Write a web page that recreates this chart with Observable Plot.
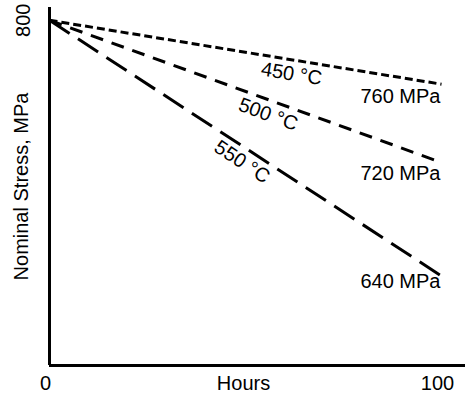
<!DOCTYPE html>
<html>
<head>
<meta charset="utf-8">
<script src="https://cdn.jsdelivr.net/npm/d3@7"></script>
<script src="https://cdn.jsdelivr.net/npm/@observablehq/plot@0.6"></script>
<style>
  html, body { margin: 0; padding: 0; background: #fff; }
  #chart { width: 465px; height: 395px; }
</style>
</head>
<body>
<div id="chart"></div>
<script>
// ---- data ----
const hours = [0, 100];
const series = ["450 °C", "500 °C", "550 °C"];
const startStress = [800, 800, 800];
const endStress = [760, 711, 640];          // as drawn (schematic)
const endLabels = ["760 MPa", "720 MPa", "640 MPa"];
const xTicks = [0, 100];
const yTicks = [800];
const xTitle = "Hours";
const yTitle = "Nominal Stress, MPa";

// ---- layout ----
const W = 465, H = 395;
const mL = 49, mR = 0, mT = 7, mB = 30;
const xDomain = [0, 106.12];
const yDomain = [584, 808];
const dashes = ["8,4", "13,9", "24,10"];
const labelHours = [62.3, 57, 51];
const labelPerp = [14, 14, 13.5];
const endDy = [12, 11, 6];
const font = "'Liberation Sans', Arial, Helvetica, sans-serif";

const xs = Plot.scale({x: {domain: xDomain, range: [mL, W - mR]}});
const ys = Plot.scale({y: {domain: yDomain, range: [H - mB, mT]}});

const lines = series.map((s, i) => hours.map((h, j) => ({
  series: s, hour: h, stress: j === 0 ? startStress[i] : endStress[i]
})));

const marks = [];
// axes lines
marks.push(Plot.ruleX([xDomain[0]], {stroke: "#000", strokeWidth: 3}));
marks.push(Plot.ruleY([yDomain[0]], {stroke: "#000", strokeWidth: 3}));

// dashed lines
lines.forEach((data, i) => {
  marks.push(Plot.line(data, {
    x: "hour", y: "stress", stroke: "#000", strokeWidth: 3,
    strokeDasharray: dashes[i], strokeLinecap: "butt"
  }));
});

// rotated in-line labels
series.forEach((s, i) => {
  const x0 = xs.apply(hours[0]), x1 = xs.apply(hours[1]);
  const y0 = ys.apply(startStress[i]), y1 = ys.apply(endStress[i]);
  const a = Math.atan2(y1 - y0, x1 - x0);
  const h = labelHours[i];
  const st = startStress[i] + (endStress[i] - startStress[i]) * (h - hours[0]) / (hours[1] - hours[0]);
  marks.push(Plot.text([s], {
    x: () => h, y: () => st, text: d => d,
    rotate: a * 180 / Math.PI,
    dx: -labelPerp[i] * Math.sin(a), dy: labelPerp[i] * Math.cos(a),
    textAnchor: "middle", lineAnchor: "middle", fontSize: 20, fill: "#000"
  }));
});

// end labels
endLabels.forEach((t, i) => {
  marks.push(Plot.text([t], {
    x: () => hours[1], y: () => endStress[i], text: d => d,
    textAnchor: "end", lineAnchor: "middle", dx: -1, dy: endDy[i],
    fontSize: 20, fill: "#000"
  }));
});

// tick labels
marks.push(Plot.text(xTicks, {
  x: d => d, y: () => yDomain[0], text: d => String(d),
  dx: -4, dy: 18, textAnchor: "middle", lineAnchor: "middle", fontSize: 20, fill: "#000"
}));
marks.push(Plot.text(yTicks, {
  x: () => xDomain[0], y: d => d, text: d => String(d),
  dx: -26, rotate: -90, textAnchor: "middle", lineAnchor: "middle", fontSize: 20, fill: "#000"
}));

// axis titles
marks.push(Plot.text([xTitle], {
  frameAnchor: "bottom", text: d => d, dx: -14, dy: 18,
  textAnchor: "middle", lineAnchor: "middle", fontSize: 20, fill: "#000"
}));
marks.push(Plot.text([yTitle], {
  frameAnchor: "left", text: d => d, dx: -28, dy: 0, rotate: -90,
  textAnchor: "middle", lineAnchor: "middle", fontSize: 20, fill: "#000"
}));

const chart = Plot.plot({
  width: W, height: H,
  marginLeft: mL, marginRight: mR, marginTop: mT, marginBottom: mB,
  x: {domain: xDomain, axis: null},
  y: {domain: yDomain, axis: null},
  style: {fontFamily: font, fontSize: "20px", background: "#fff", color: "#000", overflow: "visible"},
  marks
});
document.getElementById("chart").appendChild(chart);
</script>
</body>
</html>
